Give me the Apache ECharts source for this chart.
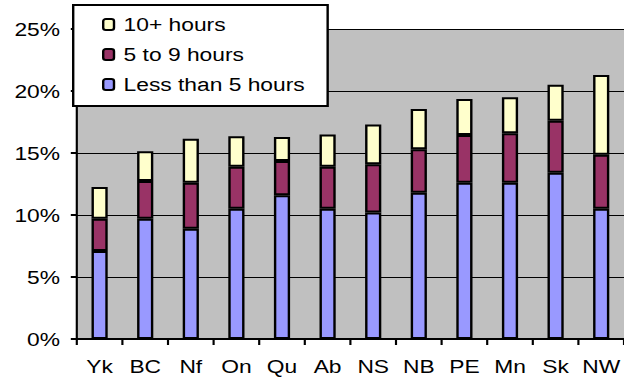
<!DOCTYPE html>
<html>
<head>
<meta charset="utf-8">
<script src="https://cdn.jsdelivr.net/npm/echarts@6/dist/echarts.min.js"></script>
<style>
  html, body { margin: 0; padding: 0; background: #fff; overflow: hidden; }
  /* The chart is laid out on a narrower canvas and widened horizontally,
     giving the broad, stretched Arial lettering of the original graphic. */
  #chart { width: 520px; height: 386px; transform: scaleX(1.2); transform-origin: 0 0; }
</style>
</head>
<body>
<div id="chart"></div>
<script>
// Provinces and territories
const categories = ['Yk', 'BC', 'Nf', 'On', 'Qu', 'Ab', 'NS', 'NB', 'PE', 'Mn', 'Sk', 'NW'];

// Share of population (%) by hours per week
const lessThan5 = [7.1, 9.7, 8.9, 10.5, 11.6, 10.5, 10.2, 11.8, 12.6, 12.6, 13.4, 10.5];
const fiveTo9   = [2.6, 3.05, 3.7, 3.4, 2.75, 3.4, 3.9, 3.5, 3.85, 4.0, 4.2, 4.35];
const tenPlus   = [2.55, 2.4, 3.55, 2.45, 1.95, 2.6, 3.2, 3.25, 2.9, 2.9, 2.9, 6.45];

// Y axis ticks (%)
const yTicks = { min: 0, max: 25, step: 5 };

const seriesNames = ['Less than 5 hours', '5 to 9 hours', '10+ hours'];
const seriesColors = ['#9999FF', '#993366', '#FFFFCC'];
const seriesValues = [lessThan5, fiveTo9, tenPlus];

const font = "'Liberation Sans', Arial, sans-serif";

const chart = echarts.init(document.getElementById('chart'), null, { renderer: 'svg' });

chart.setOption({
  animation: false,
  textStyle: { fontFamily: font },
  grid: {
    left: 64, right: 0, top: 29, bottom: 47,
    show: true, backgroundColor: '#C0C0C0', borderWidth: 0
  },
  legend: {
    data: [seriesNames[2], seriesNames[1], seriesNames[0]],
    orient: 'vertical',
    left: 61, top: 5,
    padding: [10, 19, 12, 24],
    itemGap: 11,
    itemWidth: 9,
    itemHeight: 11,
    backgroundColor: '#fff',
    borderColor: '#000',
    borderWidth: 2,
    textStyle: { fontFamily: font, fontSize: 19, color: '#000', padding: [0, 0, 0, 3] },
    z: 10
  },
  xAxis: {
    type: 'category',
    data: categories,
    axisLine: { lineStyle: { color: '#000', width: 2 } },
    axisTick: { show: true, length: 6, lineStyle: { color: '#000', width: 1.8 } },
    axisLabel: { color: '#000', fontSize: 19, fontFamily: font, margin: 18, interval: 0 },
    splitLine: { show: false }
  },
  yAxis: {
    type: 'value',
    min: yTicks.min,
    max: yTicks.max,
    interval: yTicks.step,
    axisLine: { show: true, lineStyle: { color: '#000', width: 1.8 } },
    axisTick: { show: true, length: 5, lineStyle: { color: '#000', width: 2 } },
    axisLabel: { color: '#000', fontSize: 19, fontFamily: font, margin: 14, formatter: '{value}%' },
    splitLine: { show: true, lineStyle: { color: '#000', width: 1 } }
  },
  series: seriesValues.map((vals, i) => ({
    name: seriesNames[i],
    type: 'bar',
    stack: 'hours',
    barWidth: 13.5,
    data: vals,
    itemStyle: { color: seriesColors[i], borderColor: '#000', borderWidth: 2 }
  }))
});
</script>
</body>
</html>
